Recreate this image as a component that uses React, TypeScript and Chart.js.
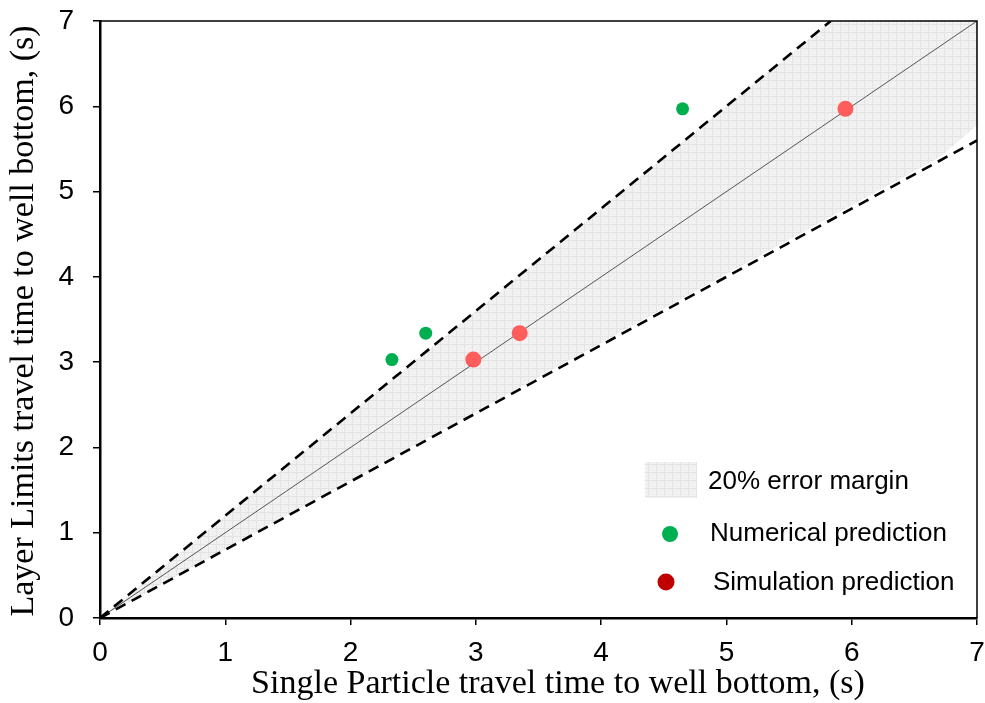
import React, { useEffect, useRef } from "react";
import { Chart, registerables } from "chart.js";

Chart.register(...registerables);

// ---- data ----
const numericalX = [2.33, 2.6, 4.65];
const numericalY = [3.03, 3.34, 5.97];
const simulationX = [2.98, 3.35, 5.95];
const simulationY = [3.03, 3.34, 5.97];
const parityX = [0, 7];
const parityY = [0, 7];
const upperBoundX = [0, 5.833];
const upperBoundY = [0, 7];
const lowerBoundX = [0, 7];
const lowerBoundY = [0, 5.6];
const marginX = [0, 5.833, 7, 7, 6.7, 6.2, 0];
const marginY = [0, 7, 7, 5.78, 5.4, 5.0, 0];
const axisMin = 0;
const axisMax = 7;
const tickStep = 1;
const legendLabels = ["20% error margin", "Numerical prediction", "Simulation prediction"];
const xTitle = "Single Particle travel time to well bottom, (s)";
const yTitle = "Layer Limits travel time to well bottom, (s)";

const pts = (xs: number[], ys: number[]) => xs.map((x, i) => ({ x, y: ys[i] }));

function makePattern(ctx: CanvasRenderingContext2D) {
  const c = document.createElement("canvas");
  c.width = 8;
  c.height = 8;
  const g = c.getContext("2d")!;
  g.fillStyle = "#f1f1f1";
  g.fillRect(0, 0, 8, 8);
  g.fillStyle = "#e4e4e4";
  g.fillRect(0, 0, 8, 1);
  g.fillRect(0, 0, 1, 8);
  return ctx.createPattern(c, "repeat") || "#eeeeee";
}

export default function App() {
  const ref = useRef<HTMLCanvasElement | null>(null);

  useEffect(() => {
    document.body.style.margin = "0";
    const canvas = ref.current!;
    const ctx = canvas.getContext("2d")!;
    const pattern = makePattern(ctx);

    const overlay = {
      id: "overlay",
      afterDraw(chart: any) {
        const c = chart.ctx;
        const a = chart.chartArea;
        c.save();
        // frame top & right
        c.strokeStyle = "#000";
        c.lineWidth = 1.5;
        c.beginPath();
        c.moveTo(a.left, a.top);
        c.lineTo(a.right, a.top);
        c.lineTo(a.right, a.bottom);
        c.stroke();

        // legend
        c.fillStyle = pattern as any;
        c.fillRect(645, 462, 52, 36);
        c.font = '26px "Liberation Sans", Arial, sans-serif';
        c.fillStyle = "#000";
        c.textBaseline = "middle";
        c.textAlign = "left";
        c.fillText(legendLabels[0], 708, 482);
        c.fillText(legendLabels[1], 710, 534);
        c.fillText(legendLabels[2], 713, 583);
        c.fillStyle = "#00b050";
        c.beginPath();
        c.arc(670, 534, 8, 0, Math.PI * 2);
        c.fill();
        c.fillStyle = "#c00000";
        c.beginPath();
        c.arc(666, 582, 8.5, 0, Math.PI * 2);
        c.fill();

        // axis titles
        c.font = '34px "Liberation Serif", "Times New Roman", serif';
        c.fillStyle = "#000";
        c.textAlign = "center";
        c.textBaseline = "middle";
        c.fillText(xTitle, 558, 684);
        c.translate(24, 321);
        c.rotate(-Math.PI / 2);
        c.fillText(yTitle, 0, 0);
        c.restore();
      },
    };

    const tickFont = { family: '"Liberation Sans", Arial, sans-serif', size: 28 };

    const chart = new Chart(canvas, {
      type: "scatter",
      data: {
        datasets: [
          {
            label: "Simulation prediction",
            data: pts(simulationX, simulationY),
            backgroundColor: "#ff5c5c",
            borderWidth: 0,
            pointRadius: 8,
            order: 0,
          },
          {
            label: "Numerical prediction",
            data: pts(numericalX, numericalY),
            backgroundColor: "#00b050",
            borderWidth: 0,
            pointRadius: 6.5,
            order: 1,
          },
          {
            label: "upper",
            data: pts(upperBoundX, upperBoundY),
            showLine: true,
            borderColor: "#000",
            borderWidth: 2.6,
            borderDash: [11, 7],
            pointRadius: 0,
            fill: false,
            order: 2,
          },
          {
            label: "lower",
            data: pts(lowerBoundX, lowerBoundY),
            showLine: true,
            borderColor: "#000",
            borderWidth: 2.6,
            borderDash: [11, 7],
            pointRadius: 0,
            fill: false,
            order: 2,
          },
          {
            label: "parity",
            data: pts(parityX, parityY),
            showLine: true,
            borderColor: "#555",
            borderWidth: 1,
            pointRadius: 0,
            fill: false,
            order: 3,
          },
          {
            label: "20% error margin",
            data: pts(marginX, marginY),
            showLine: true,
            borderWidth: 0,
            borderColor: "rgba(0,0,0,0)",
            backgroundColor: pattern as any,
            pointRadius: 0,
            fill: "shape",
            order: 4,
          } as any,
        ],
      },
      options: {
        animation: false,
        responsive: false,
        devicePixelRatio: 1,
        layout: { padding: { top: 21, right: 8, left: 0, bottom: 0 } },
        plugins: { legend: { display: false }, tooltip: { enabled: false } },
        scales: {
          x: {
            type: "linear",
            min: axisMin,
            max: axisMax,
            ticks: { stepSize: tickStep, font: tickFont, color: "#000", padding: 11, maxRotation: 0 },
            grid: { display: true, drawOnChartArea: false, drawTicks: true, tickLength: 7, color: "#000", lineWidth: 1.5 },
            border: { display: true, color: "#000", width: 2.5 },
            afterFit: (s: any) => {
              s.height = 85;
              s.paddingLeft = 0;
              s.paddingRight = 0;
            },
          },
          y: {
            type: "linear",
            min: axisMin,
            max: axisMax,
            ticks: { stepSize: tickStep, font: tickFont, color: "#000", padding: 19 },
            grid: { display: true, drawOnChartArea: false, drawTicks: true, tickLength: 7, color: "#000", lineWidth: 1.5 },
            border: { display: true, color: "#000", width: 2.5 },
            afterFit: (s: any) => {
              s.width = 100;
              s.paddingTop = 0;
              s.paddingBottom = 0;
            },
          },
        },
      },
      plugins: [overlay],
    } as any);

    return () => chart.destroy();
  }, []);

  return (
    <div style={{ width: 985, height: 703 }}>
      <canvas ref={ref} width={985} height={703} style={{ display: "block" }} />
    </div>
  );
}
